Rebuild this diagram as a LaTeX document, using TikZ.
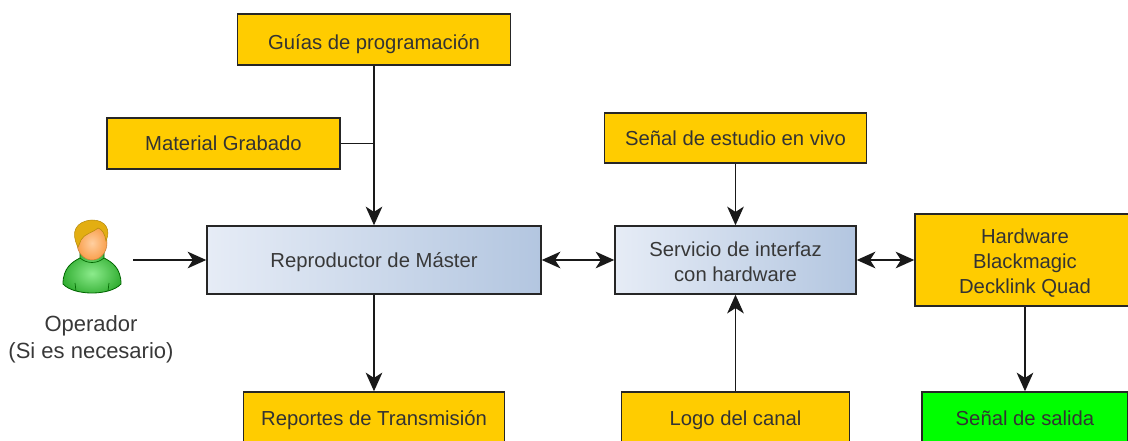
\documentclass[tikz,border=0pt]{standalone}
\usepackage{fontspec}
\setmainfont{Liberation Sans}
\usetikzlibrary{arrows.meta,positioning}
\definecolor{boxyellow}{HTML}{FFCC00}
\definecolor{boxgreen}{HTML}{00FF00}
\definecolor{boxblueL}{HTML}{E6ECF6}
\definecolor{boxblueR}{HTML}{B3C6E0}
\definecolor{labelgray}{HTML}{383838}
\definecolor{shirtL}{HTML}{8CEB8C}
\definecolor{shirtD}{HTML}{35B035}
\definecolor{skinL}{HTML}{FFCFA0}
\definecolor{skinD}{HTML}{F9A04E}
\definecolor{hairC}{HTML}{E3AE12}
\tikzset{%
   block/.style={rectangle, draw=black!85, line width=1.1pt, inner sep=0pt, align=center, text=labelgray, font=\fontsize{15.2}{18.75}\selectfont},
   oneline/.style={text height=11.2pt, text depth=0pt},
   yellowbox/.style={block, fill=boxyellow, text=black!80},
   greenbox/.style={block, fill=boxgreen, text=black!80},
   bluebox/.style={block, left color=boxblueL, right color=boxblueR},
   flow/.style={line width=1.1pt, draw=black!90, -{Stealth[inset=4pt, length=14pt, width=12.5pt]}},
   dflow/.style={line width=1.1pt, draw=black!90, {Stealth[inset=4pt, length=14pt, width=12.5pt]}-{Stealth[inset=4pt, length=14pt, width=12.5pt]}},
   plain/.style={line width=1.1pt, draw=black!90},
   skin/.style={draw=skinD!80!black, line width=.4pt, inner color=skinL, outer color=skinD},
   shirt/.style={draw=green!40!black, line width=.6pt, inner color=shirtL, outer color=shirtD},
   hair/.style={draw=hairC!80!black, line width=.4pt, fill=hairC},
}
\begin{document}
\begin{tikzpicture}[x=.75pt, y=-.75pt]
      \useasboundingbox (0,0) rectangle (1128,440);
      \clip (0,0) rectangle (1128,440);
      \node[yellowbox, oneline, text height=15pt, minimum width=204.75pt, minimum height=38.25pt] (guias) at (374,39.5) {Guías de programación};
      \node[yellowbox, oneline, minimum width=174.75pt, minimum height=38.25pt] (material) at (223.5,143.5) {Material Grabado};
      \node[yellowbox, oneline, minimum width=196.5pt, minimum height=37.5pt] (estudio) at (735.5,138) {Señal de estudio en vivo};
      \node[bluebox, oneline, minimum width=250.5pt, minimum height=51pt] (master) at (374,260) {Reproductor de Máster};
      \node[bluebox, minimum width=180.75pt, minimum height=51pt] (interfaz) at (735.5,260) {\rule{0pt}{13pt}Servicio de interfaz\\con hardware};
      \node[yellowbox, minimum width=165pt, minimum height=69pt] (hardware) at (1025,260) {\rule{0pt}{15pt}Hardware\\Blackmagic\\Decklink Quad};
      \node[yellowbox, oneline, minimum width=195.75pt, minimum height=39pt] (reportes) at (374,418) {Reportes de Transmisión};
      \node[yellowbox, oneline, minimum width=171pt, minimum height=39pt] (logo) at (735.5,418) {Logo del canal};
      \node[greenbox, oneline, minimum width=154.5pt, minimum height=39pt] (salida) at (1025,418) {Señal de salida};
      \node[align=center, text=labelgray, font=\fontsize{16.5}{20}\selectfont] (operador) at (91,339.5) {Operador\\(Si es necesario)};
      % person
      \draw[shirt] (63,284) .. controls (63,268) and (72,262) .. (80,258) -- (80,251) -- (104,251) -- (104,258) .. controls (112,262) and (121,268) .. (121,284) .. controls (110,296) and (74,296) .. (63,284) -- cycle;
      \draw[green!40!black, line width=.5pt] (75,283) -- (76,291) (109,283) -- (108,291) (80,258) .. controls (87,264) and (97,264) .. (104,258);
      \draw[skin] (92,243) ellipse [x radius=15, y radius=17];
      \draw[hair] (78,247) .. controls (70,232) and (76,221) .. (92,220) .. controls (106,220) and (111,230) .. (106,241) .. controls (105,234) and (102,229) .. (98,228) .. controls (92,233) and (84,234) .. (81,240) .. controls (80,243) and (79,245) .. (78,247) -- cycle;
      \coordinate (opout) at (133,260);
      \draw[flow] (opout) -- (master);
      \draw[flow] (guias) -- (master);
      \draw[plain] (material) -- (material -| guias);
      \draw[flow] (estudio) -- (interfaz);
      \draw[dflow] (master) -- (interfaz);
      \draw[dflow] (interfaz) -- (hardware);
      \draw[flow] (master) -- (reportes);
      \draw[flow] (logo) -- (interfaz);
      \draw[flow] (hardware) -- (salida);
\end{tikzpicture}
\end{document}
